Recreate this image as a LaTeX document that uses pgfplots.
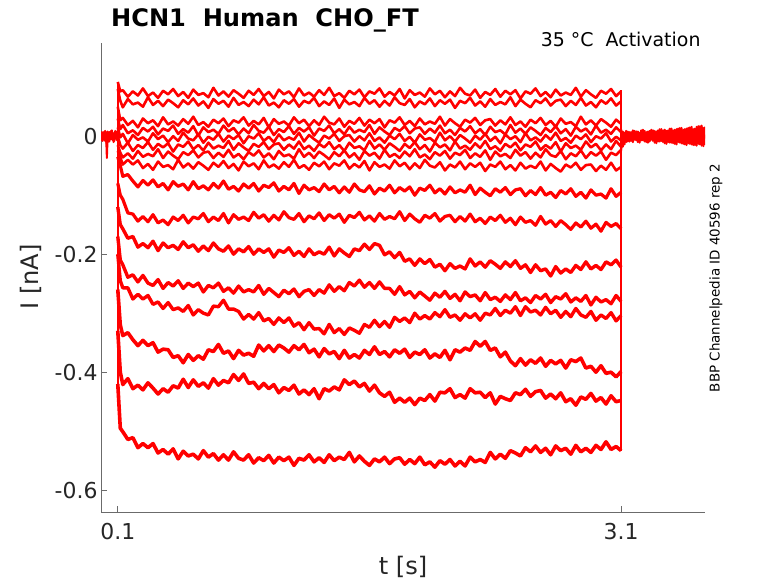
\documentclass[border=0pt]{standalone}
\usepackage{pgfplots}
\pgfplotsset{compat=1.18}
\usepackage{fontspec}
\setmainfont{DejaVu Sans}
\definecolor{axgray}{gray}{0.42}
\definecolor{txt}{gray}{0.15}
\begin{document}
\begin{tikzpicture}
\useasboundingbox (0,0) rectangle (778bp,583bp);
\begin{axis}[
  at={(101bp,71bp)}, anchor=south west,
  scale only axis, width=604bp, height=469bp,
  xmin=0, xmax=3.6, ymin=-637, ymax=158,
  axis lines*=left,
  axis line style={axgray, line width=0.7bp},
  tick align=inside,
  major tick length=6bp,
  tick style={axgray, line width=0.7bp},
  xtick={0.1,3.1}, xticklabels={0.1,3.1},
  ytick={-600,-400,-200,0}, yticklabels={-0.6,-0.4,-0.2,{0\hspace{23bp}}},
  ticklabel style={font=\fontsize{22}{26}\selectfont, text=txt},
  xticklabel style={yshift=-8bp},
  cycle list={red,solid,mark=none,line width=2.6bp,line join=round\\},
]
% T1
\addplot coordinates {(0.1,92) (0.115,76)
(0.13,78) (0.16,67) (0.19,76) (0.22,69) (0.25,81) (0.28,68) (0.31,74) (0.34,65) (0.37,77) (0.40,71)
(0.43,80) (0.46,68) (0.49,75) (0.52,65) (0.55,79) (0.58,70) (0.61,73) (0.64,66) (0.67,82) (0.70,69)
(0.73,76) (0.76,67) (0.79,78) (0.82,72) (0.85,65) (0.88,77) (0.91,70) (0.94,80) (0.97,68) (1.00,75)
(1.03,64) (1.06,79) (1.09,71) (1.12,76) (1.15,66) (1.18,81) (1.21,69) (1.24,74) (1.27,67) (1.30,78)
(1.33,70) (1.36,82) (1.39,68) (1.42,73) (1.45,65) (1.48,77) (1.51,71) (1.54,79) (1.57,66) (1.60,76)
(1.63,72) (1.66,81) (1.69,67) (1.72,75) (1.75,69) (1.78,80) (1.81,64) (1.84,78) (1.87,70) (1.90,74)
(1.93,67) (1.96,81) (1.99,71) (2.02,77) (2.05,66) (2.08,76) (2.11,68) (2.14,82) (2.17,72) (2.20,69)
(2.23,79) (2.26,65) (2.29,75) (2.32,70) (2.35,80) (2.38,67) (2.41,77) (2.44,71) (2.47,78) (2.50,64)
(2.53,76) (2.56,72) (2.59,81) (2.62,68) (2.65,75) (2.68,66) (2.71,79) (2.74,69) (2.77,74) (2.80,70)
(2.83,82) (2.86,67) (2.89,78) (2.92,71) (2.95,65) (2.98,77) (3.01,72) (3.04,80) (3.07,68) (3.10,76)};
% T2
\addplot coordinates {(0.1,80) (0.115,60)
(0.13,49) (0.16,63) (0.19,54) (0.22,57) (0.25,50) (0.28,66) (0.31,53) (0.34,60) (0.37,51) (0.40,62)
(0.43,56) (0.46,49) (0.49,61) (0.52,54) (0.55,64) (0.58,52) (0.61,59) (0.64,48) (0.67,63) (0.70,55)
(0.73,60) (0.76,50) (0.79,65) (0.82,53) (0.85,58) (0.88,51) (0.91,62) (0.94,54) (0.97,66) (1.00,52)
(1.03,57) (1.06,49) (1.09,61) (1.12,55) (1.15,63) (1.18,50) (1.21,60) (1.24,56) (1.27,65) (1.30,51)
(1.33,59) (1.36,53) (1.39,64) (1.42,48) (1.45,62) (1.48,54) (1.51,58) (1.54,51) (1.57,65) (1.60,55)
(1.63,61) (1.66,50) (1.69,60) (1.72,52) (1.75,66) (1.78,56) (1.81,53) (1.84,63) (1.87,49) (1.90,59)
(1.93,54) (1.96,64) (1.99,51) (2.02,61) (2.05,55) (2.08,62) (2.11,48) (2.14,60) (2.17,56) (2.20,65)
(2.23,52) (2.26,59) (2.29,50) (2.32,63) (2.35,53) (2.38,58) (2.41,54) (2.44,66) (2.47,51) (2.50,62)
(2.53,55) (2.56,49) (2.59,61) (2.62,56) (2.65,64) (2.68,52) (2.71,60) (2.74,62) (2.77,51) (2.80,60)
(2.83,53) (2.86,65) (2.89,52) (2.92,58) (2.95,49) (2.98,61) (3.01,55) (3.04,64) (3.07,52) (3.10,59)};
% T3
\addplot coordinates {(0.1,50) (0.115,27)
(0.13,31) (0.16,19) (0.19,26) (0.22,15) (0.25,30) (0.28,22) (0.31,27) (0.34,17) (0.37,32) (0.40,20)
(0.43,25) (0.46,18) (0.49,29) (0.52,21) (0.55,33) (0.58,19) (0.61,24) (0.64,16) (0.67,28) (0.70,22)
(0.73,30) (0.76,17) (0.79,27) (0.82,23) (0.85,32) (0.88,18) (0.91,26) (0.94,20) (0.97,31) (1.00,15)
(1.03,29) (1.06,21) (1.09,25) (1.12,18) (1.15,32) (1.18,22) (1.21,28) (1.24,17) (1.27,27) (1.30,19)
(1.33,33) (1.36,23) (1.39,20) (1.42,30) (1.45,16) (1.48,26) (1.51,21) (1.54,31) (1.57,18) (1.60,28)
(1.63,22) (1.66,29) (1.69,15) (1.72,27) (1.75,23) (1.78,32) (1.81,19) (1.84,26) (1.87,17) (1.90,30)
(1.93,20) (1.96,25) (1.99,21) (2.02,33) (2.05,18) (2.08,29) (2.11,22) (2.14,16) (2.17,28) (2.20,23)
(2.23,31) (2.26,19) (2.29,27) (2.32,29) (2.35,18) (2.38,27) (2.41,20) (2.44,32) (2.47,19) (2.50,25)
(2.53,16) (2.56,28) (2.59,22) (2.62,31) (2.65,19) (2.68,26) (2.71,16) (2.74,30) (2.77,21) (2.80,24)
(2.83,17) (2.86,33) (2.89,20) (2.92,27) (2.95,18) (2.98,29) (3.01,23) (3.04,16) (3.07,28) (3.10,21)};
% T4
\addplot coordinates {(0.1,30) (0.115,12)
(0.13,19) (0.16,5) (0.19,10) (0.22,2) (0.25,14) (0.28,8) (0.31,16) (0.34,3) (0.37,13) (0.40,9)
(0.43,18) (0.46,4) (0.49,12) (0.52,6) (0.55,17) (0.58,1) (0.61,15) (0.64,7) (0.67,11) (0.70,4)
(0.73,18) (0.76,8) (0.79,14) (0.82,3) (0.85,13) (0.88,5) (0.91,19) (0.94,9) (0.97,6) (1.00,16)
(1.03,2) (1.06,12) (1.09,7) (1.12,17) (1.15,4) (1.18,14) (1.21,8) (1.24,15) (1.27,1) (1.30,13)
(1.33,9) (1.36,18) (1.39,5) (1.42,12) (1.45,3) (1.48,16) (1.51,6) (1.54,11) (1.57,7) (1.60,19)
(1.63,4) (1.66,15) (1.69,8) (1.72,2) (1.75,14) (1.78,9) (1.81,17) (1.84,5) (1.87,13) (1.90,15)
(1.93,4) (1.96,13) (1.99,6) (2.02,18) (2.05,5) (2.08,11) (2.11,2) (2.14,14) (2.17,8) (2.20,17)
(2.23,5) (2.26,12) (2.29,2) (2.32,16) (2.35,7) (2.38,10) (2.41,3) (2.44,19) (2.47,6) (2.50,13)
(2.53,4) (2.56,15) (2.59,9) (2.62,2) (2.65,14) (2.68,7) (2.71,17) (2.74,5) (2.77,12) (2.80,1)
(2.83,16) (2.86,8) (2.89,13) (2.92,3) (2.95,18) (2.98,6) (3.01,11) (3.04,4) (3.07,15) (3.10,7)};
% T5
\addplot coordinates {(0.1,15) (0.115,-2)
(0.13,4) (0.16,-12) (0.19,2) (0.22,-6) (0.25,-2) (0.28,-9) (0.31,5) (0.34,-5) (0.37,1) (0.40,-10)
(0.43,0) (0.46,-8) (0.49,6) (0.52,-4) (0.55,-7) (0.58,3) (0.61,-11) (0.64,-1) (0.67,-6) (0.70,4)
(0.73,-9) (0.76,1) (0.79,-5) (0.82,2) (0.85,-12) (0.88,0) (0.91,-4) (0.94,5) (0.97,-8) (1.00,-1)
(1.03,-10) (1.06,3) (1.09,-7) (1.12,-2) (1.15,-6) (1.18,6) (1.21,-9) (1.24,2) (1.27,-5) (1.30,-11)
(1.33,1) (1.36,-4) (1.39,4) (1.42,-8) (1.45,0) (1.48,2) (1.51,-9) (1.54,0) (1.57,-7) (1.60,5)
(1.63,-8) (1.66,-2) (1.69,-11) (1.72,1) (1.75,-5) (1.78,4) (1.81,-8) (1.84,-1) (1.87,-11) (1.90,3)
(1.93,-6) (1.96,-3) (1.99,-10) (2.02,6) (2.05,-7) (2.08,0) (2.11,-9) (2.14,2) (2.17,-4) (2.20,-11)
(2.23,1) (2.26,-6) (2.29,4) (2.32,-8) (2.35,-1) (2.38,-12) (2.41,3) (2.44,-5) (2.47,0) (2.50,-10)
(2.53,5) (2.56,-7) (2.59,-2) (2.62,-9) (2.65,2) (2.68,-6) (2.71,6) (2.74,-8) (2.77,-3) (2.80,-11)
(2.83,1) (2.86,-5) (2.89,3) (2.92,-10) (2.95,0) (2.98,-4) (3.01,5) (3.04,-9) (3.07,-1) (3.10,-7)};
% T6
\addplot coordinates {(0.1,0) (0.115,-15)
(0.13,-21) (0.16,-11) (0.19,-25) (0.22,-15) (0.25,-20) (0.28,-10) (0.31,-23) (0.34,-13) (0.37,-19) (0.40,-12)
(0.43,-26) (0.46,-14) (0.49,-18) (0.52,-9) (0.55,-22) (0.58,-15) (0.61,-24) (0.64,-11) (0.67,-21) (0.70,-16)
(0.73,-20) (0.76,-8) (0.79,-23) (0.82,-12) (0.85,-19) (0.88,-25) (0.91,-13) (0.94,-18) (0.97,-10) (1.00,-22)
(1.03,-14) (1.06,-12) (1.09,-23) (1.12,-14) (1.15,-21) (1.18,-9) (1.21,-22) (1.24,-16) (1.27,-25) (1.30,-13)
(1.33,-19) (1.36,-10) (1.39,-22) (1.42,-15) (1.45,-25) (1.48,-11) (1.51,-20) (1.54,-17) (1.57,-24) (1.60,-8)
(1.63,-21) (1.66,-14) (1.69,-23) (1.72,-12) (1.75,-18) (1.78,-25) (1.81,-13) (1.84,-20) (1.87,-10) (1.90,-22)
(1.93,-15) (1.96,-26) (1.99,-11) (2.02,-19) (2.05,-14) (2.08,-24) (2.11,-9) (2.14,-21) (2.17,-16) (2.20,-23)
(2.23,-12) (2.26,-20) (2.29,-8) (2.32,-22) (2.35,-17) (2.38,-25) (2.41,-13) (2.44,-19) (2.47,-11) (2.50,-24)
(2.53,-14) (2.56,-18) (2.59,-9) (2.62,-23) (2.65,-15) (2.68,-21) (2.71,-10) (2.74,-26) (2.77,-12) (2.80,-20)
(2.83,-16) (2.86,-23) (2.89,-9) (2.92,-19) (2.95,-13) (2.98,-24) (3.01,-14) (3.04,-22) (3.07,-8) (3.10,-18)};
% T7
\addplot coordinates {(0.1,-15) (0.115,-28)
(0.13,-36) (0.16,-29) (0.19,-38) (0.22,-25) (0.25,-35) (0.28,-30) (0.31,-34) (0.34,-22) (0.37,-37) (0.40,-26)
(0.43,-33) (0.46,-39) (0.49,-27) (0.52,-32) (0.55,-24) (0.58,-36) (0.61,-28) (0.64,-26) (0.67,-37) (0.70,-28)
(0.73,-35) (0.76,-23) (0.79,-36) (0.82,-30) (0.85,-39) (0.88,-27) (0.91,-33) (0.94,-24) (0.97,-36) (1.00,-29)
(1.03,-39) (1.06,-25) (1.09,-34) (1.12,-31) (1.15,-38) (1.18,-22) (1.21,-35) (1.24,-28) (1.27,-37) (1.30,-26)
(1.33,-32) (1.36,-39) (1.39,-27) (1.42,-34) (1.45,-24) (1.48,-36) (1.51,-29) (1.54,-40) (1.57,-25) (1.60,-33)
(1.63,-28) (1.66,-38) (1.69,-23) (1.72,-35) (1.75,-30) (1.78,-37) (1.81,-26) (1.84,-34) (1.87,-22) (1.90,-36)
(1.93,-31) (1.96,-39) (1.99,-27) (2.02,-33) (2.05,-25) (2.08,-38) (2.11,-28) (2.14,-32) (2.17,-23) (2.20,-37)
(2.23,-29) (2.26,-35) (2.29,-24) (2.32,-40) (2.35,-26) (2.38,-34) (2.41,-30) (2.44,-37) (2.47,-23) (2.50,-33)
(2.53,-27) (2.56,-38) (2.59,-28) (2.62,-36) (2.65,-22) (2.68,-32) (2.71,-35) (2.74,-25) (2.77,-39) (2.80,-29)
(2.83,-34) (2.86,-24) (2.89,-37) (2.92,-27) (2.95,-33) (2.98,-26) (3.01,-40) (3.04,-28) (3.07,-32) (3.10,-23)};
% T8
\addplot coordinates {(0.1,-25) (0.115,-36)
(0.13,-48) (0.16,-40) (0.19,-48) (0.22,-41) (0.25,-54) (0.28,-47) (0.31,-57) (0.34,-43) (0.37,-52) (0.40,-49)
(0.43,-56) (0.46,-40) (0.49,-53) (0.52,-46) (0.55,-55) (0.58,-44) (0.61,-50) (0.64,-57) (0.67,-45) (0.70,-52)
(0.73,-42) (0.76,-54) (0.79,-47) (0.82,-58) (0.85,-43) (0.88,-51) (0.91,-46) (0.94,-56) (0.97,-41) (1.00,-53)
(1.03,-48) (1.06,-55) (1.09,-44) (1.12,-52) (1.15,-40) (1.18,-54) (1.21,-49) (1.24,-57) (1.27,-45) (1.30,-51)
(1.33,-43) (1.36,-56) (1.39,-46) (1.42,-50) (1.45,-41) (1.48,-55) (1.51,-47) (1.54,-53) (1.57,-42) (1.60,-58)
(1.63,-44) (1.66,-52) (1.69,-48) (1.72,-55) (1.75,-41) (1.78,-51) (1.81,-45) (1.84,-56) (1.87,-46) (1.90,-54)
(1.93,-40) (1.96,-50) (1.99,-53) (2.02,-44) (2.05,-58) (2.08,-48) (2.11,-53) (2.14,-43) (2.17,-56) (2.20,-46)
(2.23,-52) (2.26,-45) (2.29,-59) (2.32,-48) (2.35,-52) (2.38,-43) (2.41,-56) (2.44,-49) (2.47,-58) (2.50,-45)
(2.53,-55) (2.56,-50) (2.59,-54) (2.62,-43) (2.65,-58) (2.68,-47) (2.71,-54) (2.74,-60) (2.77,-48) (2.80,-53)
(2.83,-45) (2.86,-57) (2.89,-49) (2.92,-48) (2.95,-59) (2.98,-50) (3.01,-57) (3.04,-45) (3.07,-58) (3.10,-52)};
% T9
\addplot+[line width=3.2bp] coordinates {(0.1,-35) (0.115,-50)
(0.13,-68) (0.16,-65) (0.19,-76) (0.22,-86) (0.25,-75) (0.28,-83) (0.31,-74) (0.34,-86) (0.37,-80) (0.40,-91)
(0.43,-77) (0.46,-85) (0.49,-81) (0.52,-91) (0.55,-77) (0.58,-89) (0.61,-84) (0.64,-91) (0.67,-80) (0.70,-88)
(0.73,-76) (0.76,-90) (0.79,-85) (0.82,-93) (0.85,-81) (0.88,-88) (0.91,-80) (0.94,-93) (0.97,-83) (1.00,-87)
(1.03,-79) (1.06,-93) (1.09,-85) (1.12,-91) (1.15,-80) (1.18,-97) (1.21,-83) (1.24,-91) (1.27,-87) (1.30,-94)
(1.33,-81) (1.36,-91) (1.39,-85) (1.42,-96) (1.45,-86) (1.48,-95) (1.51,-81) (1.54,-91) (1.57,-94) (1.60,-84)
(1.63,-98) (1.66,-88) (1.69,-93) (1.72,-83) (1.75,-96) (1.78,-87) (1.81,-93) (1.84,-86) (1.87,-100) (1.90,-88)
(1.93,-92) (1.96,-83) (1.99,-96) (2.02,-89) (2.05,-98) (2.08,-86) (2.11,-96) (2.14,-91) (2.17,-95) (2.20,-83)
(2.23,-99) (2.26,-88) (2.29,-95) (2.32,-101) (2.35,-89) (2.38,-95) (2.41,-87) (2.44,-99) (2.47,-91) (2.50,-89)
(2.53,-101) (2.56,-92) (2.59,-99) (2.62,-87) (2.65,-100) (2.68,-95) (2.71,-104) (2.74,-92) (2.77,-98) (2.80,-89)
(2.83,-102) (2.86,-95) (2.89,-105) (2.92,-91) (2.95,-100) (2.98,-98) (3.01,-105) (3.04,-89) (3.07,-102) (3.10,-95)};
% T10
\addplot+[line width=3.2bp] coordinates {(0.1,-80) (0.115,-100)
(0.13,-107) (0.16,-130) (0.19,-132) (0.22,-144) (0.25,-136) (0.28,-145) (0.31,-133) (0.34,-147) (0.37,-142) (0.40,-150)
(0.43,-137) (0.46,-143) (0.49,-134) (0.52,-147) (0.55,-137) (0.58,-140) (0.61,-131) (0.64,-145) (0.67,-137) (0.70,-143)
(0.73,-131) (0.76,-147) (0.79,-133) (0.82,-141) (0.85,-137) (0.88,-143) (0.91,-129) (0.94,-139) (0.97,-133) (1.00,-144)
(1.03,-134) (1.06,-142) (1.09,-128) (1.12,-138) (1.15,-141) (1.18,-131) (1.21,-145) (1.24,-135) (1.27,-140) (1.30,-130)
(1.33,-143) (1.36,-133) (1.39,-139) (1.42,-132) (1.45,-146) (1.48,-134) (1.51,-138) (1.54,-129) (1.57,-142) (1.60,-135)
(1.63,-144) (1.66,-131) (1.69,-141) (1.72,-136) (1.75,-140) (1.78,-128) (1.81,-143) (1.84,-132) (1.87,-140) (1.90,-146)
(1.93,-134) (1.96,-139) (1.99,-131) (2.02,-144) (2.05,-136) (2.08,-134) (2.11,-145) (2.14,-136) (2.17,-144) (2.20,-132)
(2.23,-145) (2.26,-139) (2.29,-148) (2.32,-137) (2.35,-143) (2.38,-134) (2.41,-146) (2.44,-139) (2.47,-150) (2.50,-137)
(2.53,-146) (2.56,-143) (2.59,-151) (2.62,-136) (2.65,-149) (2.68,-143) (2.71,-153) (2.74,-143) (2.77,-150) (2.80,-158)
(2.83,-147) (2.86,-154) (2.89,-144) (2.92,-156) (2.95,-149) (2.98,-161) (3.01,-146) (3.04,-153) (3.07,-148) (3.10,-157)};
% T11
\addplot+[line width=3.4bp] coordinates {(0.1,-120) (0.115,-150)
(0.13,-157) (0.16,-173) (0.19,-170) (0.22,-188) (0.25,-182) (0.28,-189) (0.31,-178) (0.34,-194) (0.37,-181) (0.40,-189)
(0.43,-185) (0.46,-192) (0.49,-179) (0.52,-189) (0.55,-184) (0.58,-195) (0.61,-186) (0.64,-194) (0.67,-181) (0.70,-191)
(0.73,-195) (0.76,-186) (0.79,-200) (0.82,-191) (0.85,-196) (0.88,-187) (0.91,-200) (0.94,-191) (0.97,-197) (1.00,-191)
(1.03,-205) (1.06,-193) (1.09,-197) (1.12,-189) (1.15,-202) (1.18,-195) (1.21,-204) (1.24,-191) (1.27,-201) (1.30,-196)
(1.33,-200) (1.36,-188) (1.39,-203) (1.42,-191) (1.45,-198) (1.48,-204) (1.51,-191) (1.54,-194) (1.57,-183) (1.60,-192)
(1.63,-182) (1.66,-185) (1.69,-201) (1.72,-196) (1.75,-206) (1.78,-197) (1.81,-212) (1.84,-208) (1.87,-219) (1.90,-208)
(1.93,-216) (1.96,-209) (1.99,-222) (2.02,-217) (2.05,-228) (2.08,-216) (2.11,-224) (2.14,-220) (2.17,-225) (2.20,-208)
(2.23,-220) (2.26,-213) (2.29,-222) (2.32,-211) (2.35,-217) (2.38,-224) (2.41,-213) (2.44,-221) (2.47,-211) (2.50,-224)
(2.53,-218) (2.56,-231) (2.59,-218) (2.62,-228) (2.65,-225) (2.68,-237) (2.71,-221) (2.74,-232) (2.77,-225) (2.80,-231)
(2.83,-219) (2.86,-226) (2.89,-213) (2.92,-225) (2.95,-219) (2.98,-226) (3.01,-213) (3.04,-218) (3.07,-210) (3.10,-222)};
% T12
\addplot+[line width=3.4bp] coordinates {(0.1,-170) (0.115,-210)
(0.13,-218) (0.16,-239) (0.19,-235) (0.22,-247) (0.25,-236) (0.28,-249) (0.31,-253) (0.34,-243) (0.37,-258) (0.40,-248)
(0.43,-254) (0.46,-245) (0.49,-258) (0.52,-249) (0.55,-255) (0.58,-249) (0.61,-264) (0.64,-253) (0.67,-257) (0.70,-249)
(0.73,-263) (0.76,-257) (0.79,-266) (0.82,-254) (0.85,-264) (0.88,-260) (0.91,-264) (0.94,-253) (0.97,-268) (1.00,-258)
(1.03,-265) (1.06,-272) (1.09,-261) (1.12,-267) (1.15,-259) (1.18,-272) (1.21,-263) (1.24,-260) (1.27,-270) (1.30,-260)
(1.33,-266) (1.36,-252) (1.39,-263) (1.42,-255) (1.45,-262) (1.48,-248) (1.51,-254) (1.54,-244) (1.57,-256) (1.60,-248)
(1.63,-258) (1.66,-247) (1.69,-258) (1.72,-258) (1.75,-268) (1.78,-255) (1.81,-269) (1.84,-263) (1.87,-274) (1.90,-264)
(1.93,-271) (1.96,-278) (1.99,-266) (2.02,-273) (2.05,-263) (2.08,-275) (2.11,-268) (2.14,-279) (2.17,-264) (2.20,-272)
(2.23,-269) (2.26,-279) (2.29,-265) (2.32,-277) (2.35,-273) (2.38,-280) (2.41,-269) (2.44,-277) (2.47,-265) (2.50,-279)
(2.53,-274) (2.56,-282) (2.59,-270) (2.62,-276) (2.65,-268) (2.68,-282) (2.71,-272) (2.74,-276) (2.77,-267) (2.80,-281)
(2.83,-274) (2.86,-280) (2.89,-270) (2.92,-286) (2.95,-273) (2.98,-281) (3.01,-277) (3.04,-284) (3.07,-270) (3.10,-280)};
% T13
\addplot+[line width=3.4bp] coordinates {(0.1,-200) (0.115,-245)
(0.13,-257) (0.16,-257) (0.19,-276) (0.22,-268) (0.25,-276) (0.28,-270) (0.31,-285) (0.34,-281) (0.37,-292) (0.40,-282)
(0.43,-294) (0.46,-291) (0.49,-297) (0.52,-287) (0.55,-303) (0.58,-294) (0.61,-300) (0.64,-303) (0.67,-288) (0.70,-289)
(0.73,-278) (0.76,-293) (0.79,-293) (0.82,-297) (0.85,-310) (0.88,-302) (0.91,-310) (0.94,-299) (0.97,-313) (1.00,-309)
(1.03,-319) (1.06,-308) (1.09,-316) (1.12,-308) (1.15,-322) (1.18,-316) (1.21,-328) (1.24,-316) (1.27,-327) (1.30,-326)
(1.33,-335) (1.36,-319) (1.39,-333) (1.42,-326) (1.45,-336) (1.48,-325) (1.51,-329) (1.54,-334) (1.57,-319) (1.60,-324)
(1.63,-312) (1.66,-323) (1.69,-314) (1.72,-324) (1.75,-307) (1.78,-314) (1.81,-308) (1.84,-316) (1.87,-300) (1.90,-310)
(1.93,-304) (1.96,-310) (1.99,-299) (2.02,-306) (2.05,-294) (2.08,-307) (2.11,-303) (2.14,-312) (2.17,-301) (2.20,-308)
(2.23,-301) (2.26,-312) (2.29,-300) (2.32,-303) (2.35,-292) (2.38,-304) (2.41,-295) (2.44,-300) (2.47,-289) (2.50,-304)
(2.53,-289) (2.56,-298) (2.59,-295) (2.62,-303) (2.65,-290) (2.68,-301) (2.71,-295) (2.74,-307) (2.77,-297) (2.80,-306)
(2.83,-292) (2.86,-303) (2.89,-307) (2.92,-297) (2.95,-312) (2.98,-303) (3.01,-309) (3.04,-299) (3.07,-313) (3.10,-304)};
% T14
\addplot+[line width=3.6bp] coordinates {(0.1,-260) (0.115,-320)
(0.13,-338) (0.16,-333) (0.19,-345) (0.22,-355) (0.25,-346) (0.28,-355) (0.31,-350) (0.34,-366) (0.37,-361) (0.40,-362)
(0.43,-375) (0.46,-372) (0.49,-384) (0.52,-370) (0.55,-380) (0.58,-372) (0.61,-378) (0.64,-362) (0.67,-365) (0.70,-353)
(0.73,-368) (0.76,-364) (0.79,-377) (0.82,-363) (0.85,-371) (0.88,-368) (0.91,-373) (0.94,-354) (0.97,-364) (1.00,-355)
(1.03,-365) (1.06,-354) (1.09,-359) (1.12,-366) (1.15,-355) (1.18,-362) (1.21,-353) (1.24,-367) (1.27,-361) (1.30,-374)
(1.33,-360) (1.36,-369) (1.39,-365) (1.42,-377) (1.45,-363) (1.48,-376) (1.51,-370) (1.54,-376) (1.57,-363) (1.60,-370)
(1.63,-357) (1.66,-370) (1.69,-365) (1.72,-374) (1.75,-362) (1.78,-368) (1.81,-361) (1.84,-375) (1.87,-366) (1.90,-370)
(1.93,-362) (1.96,-376) (1.99,-369) (2.02,-375) (2.05,-363) (2.08,-379) (2.11,-362) (2.14,-366) (2.17,-359) (2.20,-363)
(2.23,-348) (2.26,-356) (2.29,-348) (2.32,-363) (2.35,-359) (2.38,-374) (2.41,-366) (2.44,-381) (2.47,-389) (2.50,-377)
(2.53,-388) (2.56,-379) (2.59,-385) (2.62,-376) (2.65,-390) (2.68,-380) (2.71,-386) (2.74,-380) (2.77,-393) (2.80,-379)
(2.83,-382) (2.86,-376) (2.89,-393) (2.92,-390) (2.95,-400) (2.98,-389) (3.01,-402) (3.04,-400) (3.07,-408) (3.10,-399)};
% T15
\addplot+[line width=3.6bp] coordinates {(0.1,-330) (0.115,-400)
(0.13,-421) (0.16,-411) (0.19,-428) (0.22,-422) (0.25,-430) (0.28,-418) (0.31,-427) (0.34,-437) (0.37,-428) (0.40,-434)
(0.43,-423) (0.46,-427) (0.49,-412) (0.52,-426) (0.55,-413) (0.58,-424) (0.61,-418) (0.64,-427) (0.67,-411) (0.70,-422)
(0.73,-414) (0.76,-418) (0.79,-404) (0.82,-414) (0.85,-403) (0.88,-419) (0.91,-417) (0.94,-428) (0.97,-419) (1.00,-428)
(1.03,-421) (1.06,-435) (1.09,-426) (1.12,-431) (1.15,-422) (1.18,-437) (1.21,-430) (1.24,-438) (1.27,-428) (1.30,-445)
(1.33,-428) (1.36,-432) (1.39,-425) (1.42,-430) (1.45,-413) (1.48,-421) (1.51,-415) (1.54,-425) (1.57,-419) (1.60,-432)
(1.63,-422) (1.66,-435) (1.69,-441) (1.72,-434) (1.75,-451) (1.78,-444) (1.81,-451) (1.84,-444) (1.87,-455) (1.90,-444)
(1.93,-448) (1.96,-438) (1.99,-449) (2.02,-434) (2.05,-435) (2.08,-428) (2.11,-443) (2.14,-438) (2.17,-444) (2.20,-428)
(2.23,-435) (2.26,-434) (2.29,-443) (2.32,-435) (2.35,-454) (2.38,-441) (2.41,-445) (2.44,-448) (2.47,-435) (2.50,-438)
(2.53,-429) (2.56,-441) (2.59,-433) (2.62,-431) (2.65,-444) (2.68,-437) (2.71,-445) (2.74,-435) (2.77,-450) (2.80,-445)
(2.83,-456) (2.86,-442) (2.89,-446) (2.92,-436) (2.95,-449) (2.98,-443) (3.01,-454) (3.04,-440) (3.07,-450) (3.10,-448)};
% T16
\addplot+[line width=3.6bp] coordinates {(0.1,-420) (0.115,-495)
(0.13,-501) (0.16,-514) (0.19,-511) (0.22,-528) (0.25,-521) (0.28,-528) (0.31,-521) (0.34,-537) (0.37,-531) (0.40,-539)
(0.43,-530) (0.46,-547) (0.49,-534) (0.52,-542) (0.55,-539) (0.58,-547) (0.61,-533) (0.64,-544) (0.67,-538) (0.70,-549)
(0.73,-540) (0.76,-549) (0.79,-535) (0.82,-546) (0.85,-549) (0.88,-540) (0.91,-554) (0.94,-545) (0.97,-550) (1.00,-541)
(1.03,-554) (1.06,-544) (1.09,-550) (1.12,-544) (1.15,-558) (1.18,-546) (1.21,-549) (1.24,-540) (1.27,-552) (1.30,-545)
(1.33,-553) (1.36,-540) (1.39,-550) (1.42,-544) (1.45,-548) (1.48,-536) (1.51,-552) (1.54,-542) (1.57,-551) (1.60,-558)
(1.63,-547) (1.66,-552) (1.69,-544) (1.72,-555) (1.75,-547) (1.78,-545) (1.81,-556) (1.84,-548) (1.87,-555) (1.90,-544)
(1.93,-557) (1.96,-552) (1.99,-561) (2.02,-550) (2.05,-556) (2.08,-548) (2.11,-559) (2.14,-551) (2.17,-559) (2.20,-544)
(2.23,-552) (2.26,-548) (2.29,-553) (2.32,-536) (2.35,-547) (2.38,-539) (2.41,-546) (2.44,-533) (2.47,-537) (2.50,-542)
(2.53,-528) (2.56,-535) (2.59,-525) (2.62,-536) (2.65,-529) (2.68,-540) (2.71,-525) (2.74,-533) (2.77,-529) (2.80,-539)
(2.83,-524) (2.86,-535) (2.89,-529) (2.92,-536) (2.95,-524) (2.98,-531) (3.01,-518) (3.04,-531) (3.07,-526) (3.10,-533)};
% voltage-step jumps of all sweeps at 0.1 s and 3.1 s
\addplot+[line width=1.6bp] coordinates {(0.1,92) (0.1,-420)};
\addplot+[line width=1.6bp] coordinates {(3.1,78) (3.1,-533)};
% holding current before the step
\addplot+[line width=2bp] coordinates {(0,3) (0.005,-7) (0.01,6) (0.015,-4) (0.02,8) (0.025,-8) (0.03,5) (0.035,-37) (0.04,3) (0.045,-9) (0.05,7) (0.055,-5) (0.06,9) (0.065,-3) (0.07,6) (0.075,-10) (0.08,5) (0.085,-2) (0.09,8) (0.095,-7) (0.1,2)};
\addplot+[line width=2bp] coordinates {(0,-5) (0.005,7) (0.01,-8) (0.015,6) (0.02,-3) (0.025,9) (0.03,-7) (0.035,-14) (0.04,8) (0.045,-4) (0.05,-9) (0.055,7) (0.06,-5) (0.065,10) (0.07,-7) (0.075,4) (0.08,-8) (0.085,9) (0.09,-4) (0.095,7) (0.1,-5)};
% holding current after the step
\addplot+[line width=2bp] coordinates {(3.10,-25) (3.11,8) (3.12,-14) (3.13,9) (3.14,-9) (3.15,7) (3.16,-8) (3.17,10) (3.18,-6) (3.19,8)
(3.20,-10) (3.21,6) (3.22,-7) (3.23,11) (3.24,-9) (3.25,7) (3.26,-11) (3.27,9) (3.28,-6) (3.29,10)
(3.30,-11) (3.31,8) (3.32,-9) (3.33,12) (3.34,-8) (3.35,10) (3.36,-12) (3.37,9) (3.38,-10) (3.39,13)
(3.40,-11) (3.41,10) (3.42,-13) (3.43,12) (3.44,-10) (3.45,14) (3.46,-12) (3.47,11) (3.48,-14) (3.49,13)
(3.50,-12) (3.51,15) (3.52,-14) (3.53,12) (3.54,-15) (3.55,16) (3.56,-13) (3.57,17) (3.58,-16) (3.59,14) (3.60,-15)};
\addplot+[line width=2bp] coordinates {(3.10,12) (3.11,-18) (3.12,6) (3.13,-10) (3.14,8) (3.15,-9) (3.16,7) (3.17,-10) (3.18,9) (3.19,-7)
(3.20,8) (3.21,-11) (3.22,10) (3.23,-7) (3.24,9) (3.25,-10) (3.26,8) (3.27,-9) (3.28,11) (3.29,-8)
(3.30,9) (3.31,-12) (3.32,10) (3.33,-9) (3.34,12) (3.35,-10) (3.36,11) (3.37,-13) (3.38,10) (3.39,-11)
(3.40,13) (3.41,-12) (3.42,11) (3.43,-14) (3.44,13) (3.45,-11) (3.46,14) (3.47,-13) (3.48,12) (3.49,-15)
(3.50,14) (3.51,-13) (3.52,16) (3.53,-15) (3.54,13) (3.55,-16) (3.56,17) (3.57,-14) (3.58,18) (3.59,-17) (3.60,16)};
\end{axis}
\node[anchor=base, font=\fontsize{24.2}{29}\selectfont\bfseries, text=black] at (265bp,556bp) {HCN1\ \ Human\ \ CHO\_FT};
\node[anchor=base east, font=\fontsize{19}{23}\selectfont, text=black] at (704bp,536bp) {35 °C\ \ Activation};
\node[rotate=90, font=\fontsize{13.5}{16}\selectfont, text=black] at (716bp,305bp) {BBP Channelpedia ID 40596 rep 2};
\node[rotate=90, font=\fontsize{24.2}{29}\selectfont, text=txt] at (31bp,306bp) {I [nA]};
\node[font=\fontsize{24.2}{29}\selectfont, text=txt] at (403bp,16bp) {t [s]};
\end{tikzpicture}
\end{document}
